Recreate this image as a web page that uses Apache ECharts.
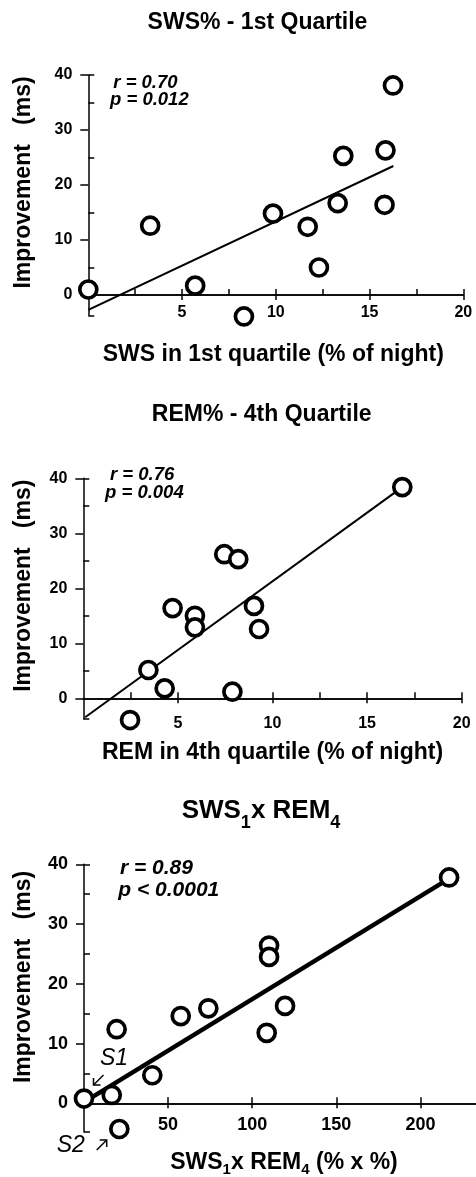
<!DOCTYPE html>
<html><head><meta charset="utf-8">
<script src="https://cdn.jsdelivr.net/npm/echarts@6/dist/echarts.min.js"></script>
<style>html,body{margin:0;padding:0;background:#fff}#c{width:476px;height:1177px}</style>
</head><body><div id="c"></div>
<script>
// ---------- Data ----------
// Panel 1: SWS% in 1st quartile vs improvement
const swsX = [0, 3.3, 5.7, 8.3, 9.85, 11.7, 12.3, 13.3, 13.6, 15.8, 15.85, 16.25];
const swsY = [1.0, 12.6, 1.7, -3.9, 14.8, 12.4, 5.0, 16.7, 25.3, 16.4, 26.3, 38.1];
const swsFitX = [0, 16.27];
const swsFitY = [-2.7, 23.45];
// Panel 2: REM% in 4th quartile vs improvement
const remX = [2.47, 3.44, 4.3, 4.72, 5.9, 5.9, 7.45, 7.88, 8.19, 9.02, 9.29, 16.86];
const remY = [-3.95, 5.15, 1.8, 16.4, 15.0, 12.9, 26.2, 1.2, 25.3, 16.8, 12.6, 38.4];
const remFitX = [0.1, 16.86];
const remFitY = [-3.45, 38.4];
// Panel 3: SWS1 x REM4 vs improvement
const prodX = [0, 16.5, 19.4, 21.0, 40.6, 57.5, 73.9, 108.6, 110, 110, 119.5, 217];
const prodY = [0.8, 1.4, 12.4, -4.3, 4.7, 14.6, 15.9, 11.8, 26.4, 24.5, 16.3, 37.8];
const prodFitX = [0, 217];
const prodFitY = [0.2, 37.6];
// Tick values
const yMajorTicks = [0, 10, 20, 30, 40];
const yMinorTicks = [5, 15, 25, 35, 40];
const pctMajorTicks = [5, 10, 15, 20];
const pctMinorTicks = [2.5, 5, 7.5, 10, 12.5, 15, 17.5, 20];
const prodMajorTicks = [50, 100, 150, 200];
// Texts
const titles = ['SWS% - 1st Quartile', 'REM% - 4th Quartile'];
const xNames = ['SWS in 1st quartile (% of night)', 'REM in 4th quartile (% of night)'];
const yName = 'Improvement   (ms)';
const stats = [['r = 0.70', 'p = 0.012'], ['r = 0.76', 'p = 0.004'], ['r = 0.89', 'p < 0.0001']];

// ---------- Build ----------
const FF = '"Liberation Sans", Arial, Helvetica, sans-serif';
const BLK = '#000';
const zip = (a, b) => a.map((v, i) => [v, b[i]]);

const panels = [
  {grid: {left: 88.3, top: 75, width: 375, height: 240.35}, xMin: 0, xMax: 20, yMin: -3.7,
   xMajor: pctMajorTicks, xMinor: pctMinorTicks, labelSize: 16, xMargin: 10,
   pts: zip(swsX, swsY), fit: zip(swsFitX, swsFitY), fitW: 2},
  {grid: {left: 83.3, top: 478.3, width: 378.4, height: 240.35}, xMin: 0, xMax: 20, yMin: -3.7,
   xMajor: pctMajorTicks, xMinor: pctMinorTicks, labelSize: 16, xMargin: 17,
   pts: zip(remX, remY), fit: zip(remFitX, remFitY), fitW: 2},
  {grid: {left: 84, top: 864.3, width: 392, height: 267.7}, xMin: 0, xMax: 233, yMin: -4.8,
   xMajor: prodMajorTicks, xMinor: prodMajorTicks, labelSize: 18, xMargin: 13,
   pts: zip(prodX, prodY), fit: zip(prodFitX, prodFitY), fitW: 4.5}
];

const ls = () => ({color: BLK, width: 1.5, type: 'solid', opacity: 1});
const grid = [], xAxis = [], yAxis = [], series = [];
panels.forEach((p, i) => {
  grid.push(Object.assign({show: false}, p.grid));
  const lab = {color: BLK, fontSize: p.labelSize, fontWeight: 'bold', fontFamily: FF};
  const off = -p.grid.height * (0 - p.yMin) / (40 - p.yMin);
  const xi = xAxis.length, yi = yAxis.length;
  // x axis line + outward major ticks, sitting on y = 0
  xAxis.push({type: 'value', gridIndex: i, min: p.xMin, max: p.xMax, position: 'bottom',
    axisLine: {show: true, onZero: true, lineStyle: ls()},
    axisTick: {show: true, customValues: p.xMajor, length: 5, lineStyle: ls()},
    axisLabel: {show: false}, splitLine: {show: false}});
  // inward minor ticks on y = 0
  xAxis.push({type: 'value', gridIndex: i, min: p.xMin, max: p.xMax, position: 'bottom',
    axisLine: {show: true, onZero: true, lineStyle: ls()},
    axisTick: {show: true, inside: true, customValues: p.xMinor, length: 6, lineStyle: ls()},
    axisLabel: {show: false}, splitLine: {show: false}});
  // tick labels below y = 0
  xAxis.push({type: 'value', gridIndex: i, min: p.xMin, max: p.xMax, position: 'bottom', offset: off,
    axisLine: {show: false, onZero: false}, axisTick: {show: false},
    axisLabel: Object.assign({show: true, customValues: p.xMajor, margin: p.xMargin}, lab),
    splitLine: {show: false}});
  yAxis.push({type: 'value', gridIndex: i, min: p.yMin, max: 40, position: 'left',
    axisLine: {show: true, onZero: false, lineStyle: ls()},
    axisTick: {show: true, customValues: yMajorTicks, length: 8, lineStyle: ls()},
    axisLabel: Object.assign({show: true, customValues: yMajorTicks, margin: 16}, lab),
    splitLine: {show: false}});
  yAxis.push({type: 'value', gridIndex: i, min: p.yMin, max: 40, position: 'left',
    axisLine: {show: false, onZero: false},
    axisTick: {show: true, inside: true, customValues: [p.yMin].concat(yMinorTicks), length: 6, lineStyle: ls()},
    axisLabel: {show: false}, splitLine: {show: false}});
  series.push({type: 'line', xAxisIndex: xi, yAxisIndex: yi, data: p.fit,
    symbol: 'none', showSymbol: false, clip: false, silent: true, z: 2,
    lineStyle: {color: BLK, width: p.fitW, opacity: 1}});
  series.push({type: 'scatter', xAxisIndex: xi, yAxisIndex: yi, data: p.pts,
    symbol: 'circle', symbolSize: 17, clip: false, silent: true, z: 3,
    itemStyle: {color: '#fff', borderColor: BLK, borderWidth: 3.7, opacity: 1}});
});

function txt(text, x, y, font, align, rot) {
  return {type: 'text', x: x, y: y, rotation: rot || 0, silent: true, z: 10,
    style: {text: text, fill: BLK, font: font, textAlign: align || 'center', align: align || 'center',
      textVerticalAlign: 'middle', verticalAlign: 'middle'}};
}
// text with subscripts: pieces laid out left to right from measured widths
const mctx = document.createElement('canvas').getContext('2d');
function subText(parts, cx, cy) {
  const fonts = parts.map(p => 'bold ' + p.size + 'px ' + FF);
  const widths = parts.map((p, k) => { mctx.font = fonts[k]; return mctx.measureText(p.t).width; });
  const total = widths.reduce((a, b) => a + b, 0);
  let x = cx - total / 2;
  return parts.map((p, k) => { const el = txt(p.t, x, cy + (p.dy || 0), fonts[k], 'left'); x += widths[k]; return el; });
}
const B23 = 'bold 23px ' + FF;
const graphic = [
  txt(titles[0], 257.5, 22.5, B23),
  txt(titles[1], 261.7, 415, B23),
  ...subText([{t: 'SWS', size: 26}, {t: '1', size: 18, dy: 12.5}, {t: 'x REM', size: 26}, {t: '4', size: 18, dy: 12.5}], 261, 810.5),
  txt(xNames[0], 273.3, 355, B23),
  txt(xNames[1], 272.5, 753, B23),
  ...subText([{t: 'SWS', size: 23}, {t: '1', size: 15, dy: 7}, {t: 'x REM', size: 23}, {t: '4', size: 15, dy: 7}, {t: ' (% x %)', size: 23}], 284, 1162.5),
  txt(yName, 24, 182.5, B23, 'center', Math.PI / 2),
  txt(yName, 24, 585.7, B23, 'center', Math.PI / 2),
  txt(yName, 24, 977, B23, 'center', Math.PI / 2),
  txt(stats[0][0], 113.3, 83.3, 'italic bold 18.5px ' + FF, 'left'),
  txt(stats[0][1], 110, 100, 'italic bold 18.5px ' + FF, 'left'),
  txt(stats[1][0], 110, 475, 'italic bold 18.5px ' + FF, 'left'),
  txt(stats[1][1], 105, 493.3, 'italic bold 18.5px ' + FF, 'left'),
  txt(stats[2][0], 120, 868, 'italic bold 21px ' + FF, 'left'),
  txt(stats[2][1], 118.3, 890, 'italic bold 21px ' + FF, 'left'),
  txt('S1', 100, 1059, 'italic 23px ' + FF, 'left'),
  txt('S2', 56.7, 1146, 'italic 23px ' + FF, 'left'),
  {type: 'polyline', silent: true, z: 10, shape: {points: [[103.5, 1075], [93.5, 1085]]}, style: {stroke: BLK, lineWidth: 1.5, fill: 'none'}},
  {type: 'polyline', silent: true, z: 10, shape: {points: [[93.5, 1078], [93.5, 1085], [100.5, 1085]]}, style: {stroke: BLK, lineWidth: 1.5, fill: 'none'}},
  {type: 'polyline', silent: true, z: 10, shape: {points: [[96.7, 1150], [106.7, 1140]]}, style: {stroke: BLK, lineWidth: 1.5, fill: 'none'}},
  {type: 'polyline', silent: true, z: 10, shape: {points: [[99.7, 1140], [106.7, 1140], [106.7, 1147]]}, style: {stroke: BLK, lineWidth: 1.5, fill: 'none'}}
];

const chart = echarts.init(document.getElementById('c'), null, {renderer: 'canvas'});
chart.setOption({animation: false, backgroundColor: '#fff', grid, xAxis, yAxis, series, graphic});
</script></body></html>
